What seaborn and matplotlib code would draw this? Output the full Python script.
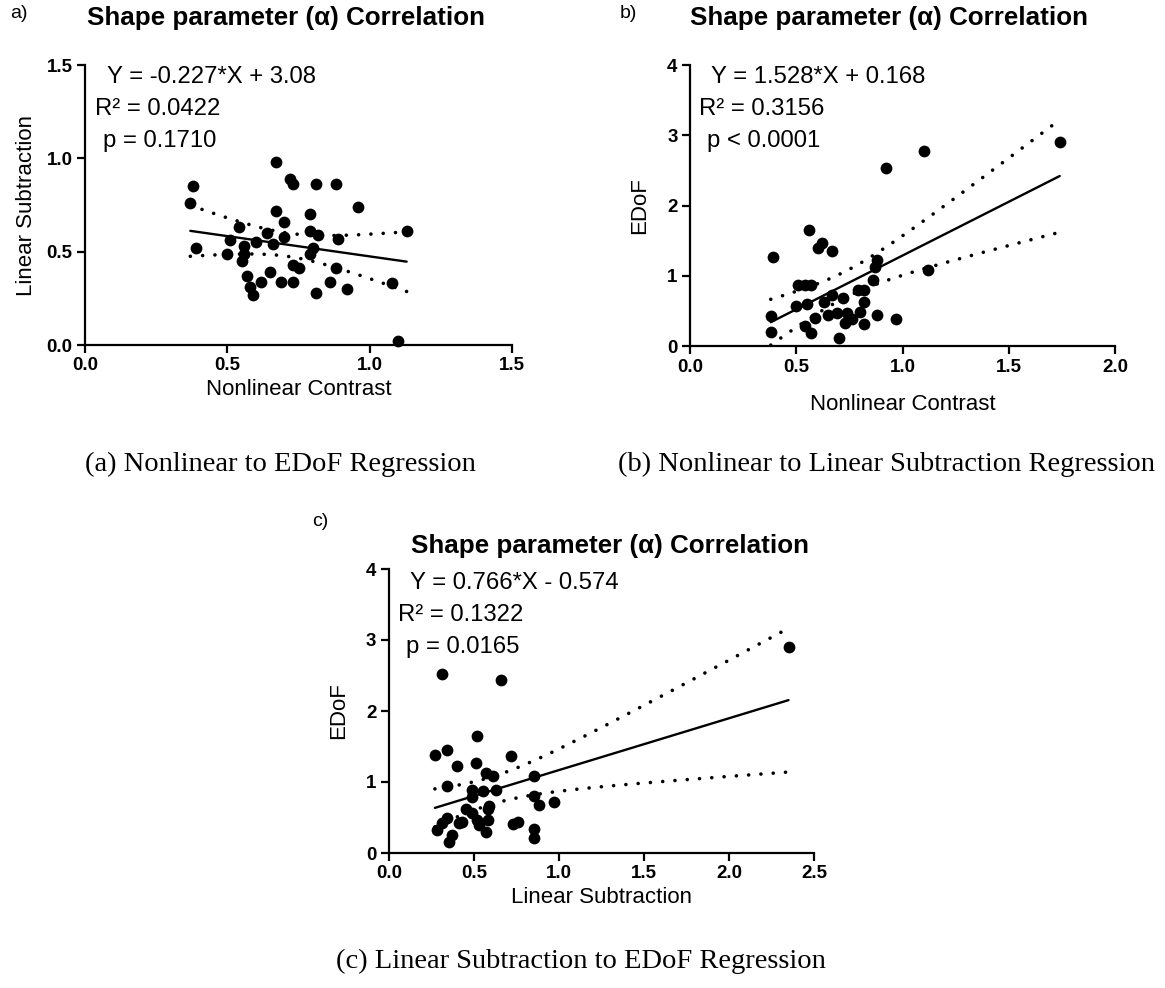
import numpy as np
import pandas as pd
import matplotlib.pyplot as plt
import seaborn as sns

sns.set_theme(style="ticks")
plt.rcParams['font.family'] = ['Liberation Sans', 'DejaVu Sans']
plt.rcParams.update({"text.color": "black", "axes.labelcolor": "black",
                     "xtick.color": "black", "ytick.color": "black"})

# panel a: Nonlinear Contrast vs Linear Subtraction
a_x = [0.67, 0.72, 0.73, 0.81, 0.88, 0.38, 0.37, 0.96, 0.67, 0.70, 0.79, 0.54, 0.64, 0.70, 0.79,
       0.82, 0.89, 1.13, 0.51, 0.56, 0.60, 0.66, 0.39, 0.50, 0.56, 0.55, 0.80, 0.79, 0.73, 0.75,
       0.88, 0.65, 0.57, 0.62, 0.69, 0.73, 0.86, 0.58, 0.59, 0.81, 0.92, 1.08, 1.10]
a_y = [0.98, 0.89, 0.86, 0.86, 0.86, 0.85, 0.76, 0.74, 0.72, 0.66, 0.70, 0.63, 0.60, 0.58, 0.61,
       0.59, 0.57, 0.61, 0.56, 0.53, 0.55, 0.54, 0.52, 0.49, 0.49, 0.45, 0.52, 0.49, 0.43, 0.41,
       0.41, 0.39, 0.37, 0.34, 0.34, 0.34, 0.34, 0.31, 0.27, 0.28, 0.30, 0.33, 0.02]

# panel b: Nonlinear Contrast vs EDoF
b_x = [1.10, 0.92, 0.56, 0.62, 0.60, 0.67, 0.39, 0.88, 1.12, 0.87, 0.86, 0.51, 0.54, 0.57, 0.79,
       0.82, 0.67, 0.72, 0.63, 0.50, 0.55, 0.82, 0.65, 0.69, 0.74, 0.80, 0.59, 0.38, 0.88, 0.97,
       0.76, 0.73, 0.82, 0.54, 0.38, 0.57, 0.70, 1.74]
b_y = [2.78, 2.53, 1.65, 1.46, 1.39, 1.35, 1.27, 1.23, 1.08, 1.12, 0.94, 0.87, 0.87, 0.87, 0.80,
       0.80, 0.73, 0.68, 0.63, 0.57, 0.60, 0.62, 0.44, 0.47, 0.47, 0.49, 0.40, 0.42, 0.44, 0.39,
       0.39, 0.33, 0.31, 0.29, 0.20, 0.19, 0.11, 2.91]

# panel c: Linear Subtraction vs EDoF
c_x = [0.31, 0.66, 0.52, 0.27, 0.34, 0.40, 0.51, 0.57, 0.61, 0.72, 0.85, 0.34, 0.49, 0.55, 0.63,
       0.49, 0.85, 0.88, 0.97, 0.59, 0.58, 0.45, 0.49, 0.52, 0.58, 0.34, 0.41, 0.43, 0.31, 0.73,
       0.76, 0.28, 0.57, 0.85, 0.85, 0.37, 0.35, 0.53, 2.35]
c_y = [2.52, 2.44, 1.65, 1.38, 1.45, 1.23, 1.27, 1.13, 1.09, 1.36, 1.09, 0.95, 0.89, 0.88, 0.89,
       0.79, 0.80, 0.68, 0.72, 0.66, 0.62, 0.62, 0.56, 0.47, 0.47, 0.50, 0.42, 0.44, 0.42, 0.41,
       0.43, 0.32, 0.29, 0.34, 0.21, 0.25, 0.16, 0.40, 2.90]

a_xticks = [0.0, 0.5, 1.0, 1.5]
a_yticks = [0.0, 0.5, 1.0, 1.5]
b_xticks = [0.0, 0.5, 1.0, 1.5, 2.0]
b_yticks = [0, 1, 2, 3, 4]
c_xticks = [0.0, 0.5, 1.0, 1.5, 2.0, 2.5]
c_yticks = [0, 1, 2, 3, 4]

title = "Shape parameter (\u03b1) Correlation"
a_stats = ["Y = -0.227*X + 3.08", "R\u00b2 = 0.0422", "p = 0.1710"]
b_stats = ["Y = 1.528*X + 0.168", "R\u00b2 = 0.3156", "p < 0.0001"]
c_stats = ["Y = 0.766*X - 0.574", "R\u00b2 = 0.1322", "p = 0.0165"]
captions = ["(a) Nonlinear to EDoF Regression",
            "(b) Nonlinear to Linear Subtraction Regression",
            "(c) Linear Subtraction to EDoF Regression"]

W, H = 1165, 988
fig = plt.figure(figsize=(W / 100, H / 100), dpi=100)


def box(l, t, r, b):
    return [l / W, 1 - b / H, (r - l) / W, (b - t) / H]


def ftext(x, y, s, **kw):
    fig.text(x / W, 1 - y / H, s, **kw)


def panel(rect, x, y, xticks, yticks, xfmt, yfmt, xlabel, ylabel, xpad, ypad):
    ax = fig.add_axes(rect)
    df = pd.DataFrame({"x": x, "y": y})
    sns.regplot(data=df, x="x", y="y", ax=ax, ci=None, color="black", truncate=True,
                scatter_kws=dict(s=72, alpha=1, linewidths=0, clip_on=False),
                line_kws=dict(lw=1.7, clip_on=False))
    # 95% confidence bands of the fit, drawn dotted
    xa, ya = np.asarray(x), np.asarray(y)
    n = len(xa)
    slope, icpt = np.polyfit(xa, ya, 1)
    s = np.sqrt(np.sum((ya - (slope * xa + icpt)) ** 2) / (n - 2))
    xs = np.linspace(xa.min(), xa.max(), 200)
    se = s * np.sqrt(1 / n + (xs - xa.mean()) ** 2 / np.sum((xa - xa.mean()) ** 2))
    for sign in (1, -1):
        ax.plot(xs, slope * xs + icpt + sign * 2.02 * se, color="black", lw=2.6,
                ls=(0, (0.01, 3.4)), dash_capstyle="round", clip_on=False)
    ax.set_xlim(xticks[0], xticks[-1])
    ax.set_ylim(yticks[0], yticks[-1])
    ax.set_xticks(xticks)
    ax.set_yticks(yticks)
    ax.set_xticklabels([xfmt.format(v) for v in xticks], fontweight="bold")
    ax.set_yticklabels([yfmt.format(v) for v in yticks], fontweight="bold")
    ax.tick_params(direction="out", length=6, width=1.6, labelsize=13.5, pad=3, color="black")
    sns.despine(ax=ax)
    for sp in ("left", "bottom"):
        ax.spines[sp].set_linewidth(1.6)
        ax.spines[sp].set_color("black")
    ax.set_xlabel(xlabel, fontsize=16, labelpad=xpad)
    ax.set_ylabel(ylabel, fontsize=16, labelpad=ypad)
    ax.set_facecolor("white")
    return ax


panel(box(85, 65, 512, 345), a_x, a_y, a_xticks, a_yticks, "{:.1f}", "{:.1f}",
      "Nonlinear Contrast", "Linear Subtraction", 3, 7)
panel(box(690, 65, 1115, 346), b_x, b_y, b_xticks, b_yticks, "{:.1f}", "{:d}",
      "Nonlinear Contrast", "EDoF", 13, 12)
panel(box(389, 569, 814, 853), c_x, c_y, c_xticks, c_yticks, "{:.1f}", "{:d}",
      "Linear Subtraction", "EDoF", 3, 12)

# titles and panel letters
ftext(286, 18, title, fontsize=18.7, fontweight="bold", ha="center", va="center")
ftext(889, 18, title, fontsize=18.7, fontweight="bold", ha="center", va="center")
ftext(610, 546, title, fontsize=18.7, fontweight="bold", ha="center", va="center")
ftext(10, 14, "a)", fontsize=14, ha="left", va="center")
ftext(620, 14, "b)", fontsize=14, ha="left", va="center")
ftext(312, 521, "c)", fontsize=14, ha="left", va="center")

# regression statistics
for (x0, y0), lines in [((107, 77), a_stats), ((711, 77), b_stats), ((410, 583), c_stats)]:
    offs = [0, -12, -4]
    for i, line in enumerate(lines):
        ftext(x0 + offs[i], y0 + 32 * i, line, fontsize=17.2, ha="left", va="center")

# subcaptions
serif = ["Liberation Serif", "DejaVu Serif"]
ftext(280, 464, captions[0], fontsize=20.5, ha="center", va="center", family=serif)
ftext(886, 464, captions[1], fontsize=20.5, ha="center", va="center", family=serif)
ftext(581, 961, captions[2], fontsize=20.5, ha="center", va="center", family=serif)

fig.savefig("out.png", dpi=100, facecolor="white")
